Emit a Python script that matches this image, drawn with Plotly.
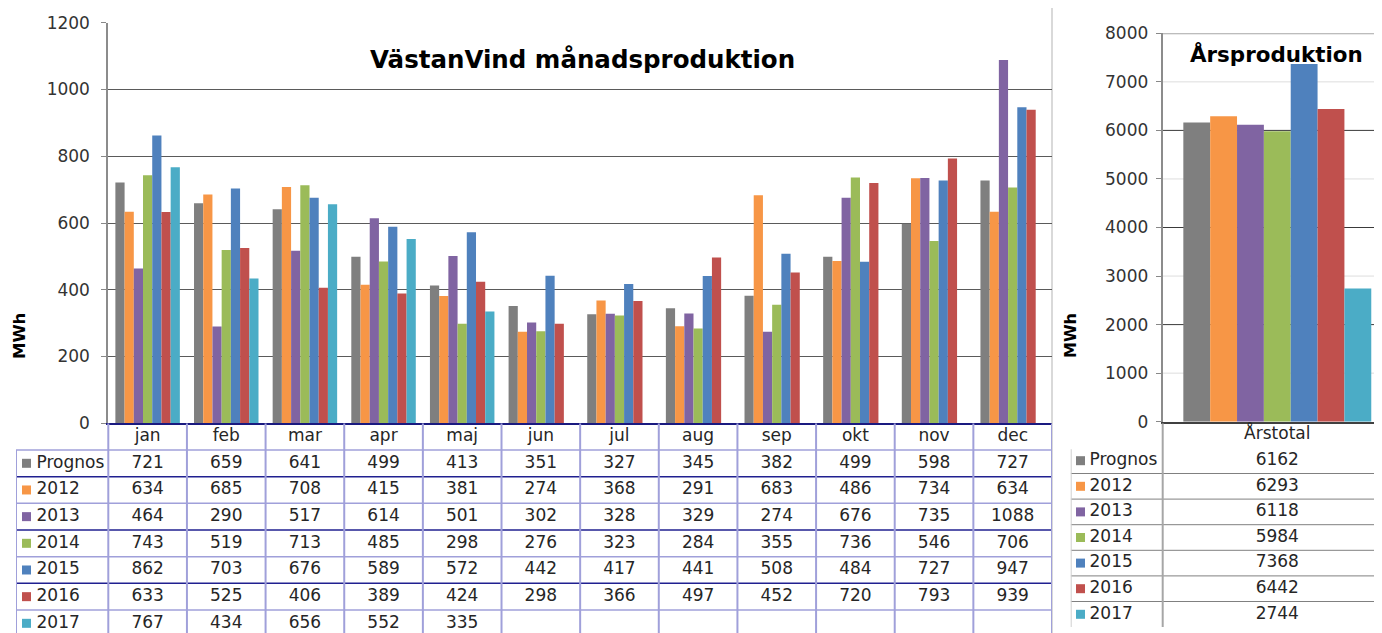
import plotly.graph_objects as go

# ---------------- data ----------------
months = ["jan", "feb", "mar", "apr", "maj", "jun", "jul", "aug", "sep", "okt", "nov", "dec"]
series_names = ["Prognos", "2012", "2013", "2014", "2015", "2016", "2017"]
prognos = [721, 659, 641, 499, 413, 351, 327, 345, 382, 499, 598, 727]
y2012 = [634, 685, 708, 415, 381, 274, 368, 291, 683, 486, 734, 634]
y2013 = [464, 290, 517, 614, 501, 302, 328, 329, 274, 676, 735, 1088]
y2014 = [743, 519, 713, 485, 298, 276, 323, 284, 355, 736, 546, 706]
y2015 = [862, 703, 676, 589, 572, 442, 417, 441, 508, 484, 727, 947]
y2016 = [633, 525, 406, 389, 424, 298, 366, 497, 452, 720, 793, 939]
y2017 = [767, 434, 656, 552, 335, None, None, None, None, None, None, None]
year_cat = ["Årstotal"]
year_totals = [6162, 6293, 6118, 5984, 7368, 6442, 2744]
colors = ["#7F7F7F", "#F79646", "#8064A2", "#9BBB59", "#4F81BD", "#C0504D", "#4BACC6"]
monthly = [prognos, y2012, y2013, y2014, y2015, y2016, y2017]

left_ticks = list(range(0, 1201, 200))
right_ticks = list(range(0, 8001, 1000))

# ---------------- layout geometry (page pixels) ----------------
W, H = 1382, 633
OFF = 8  # page body margin
FONT = "DejaVu Sans"
TXT = "#262626"

def px_x(p):
    return (p - OFF) / W

def px_y(p):
    return (H - (p - OFF)) / H

PAGE_R = W + OFF  # page x at paper x = 1

# left chart
L_x0, L_x1 = 108.3, 1052.0
L_top, L_bot = 22.7, 423.3
pitch = (L_x1 - L_x0) / 12
jan_c = L_x0 + pitch / 2
leg_left = 16.0
# left table rows
T_top = 423.3
row_h = 26.67
row0_c = T_top + row_h / 2
PAGE_B = H + OFF

# right chart
R_x0 = 1162.7
R_top, R_bot = 33.3, 421.7
R_center = 1277.3
r_unit = 229.2
R_leg_left = 1070.7
r_row_h = 25.6
r_row0_c = 435.1

fig = go.Figure()

# ---------------- bars ----------------
for name, vals, c in zip(series_names, monthly, colors):
    fig.add_trace(go.Bar(x=months, y=vals, name=name, marker=dict(color=c, line=dict(width=0)),
                         xaxis="x", yaxis="y", showlegend=False, hoverinfo="skip"))
for name, v, c in zip(series_names, year_totals, colors):
    fig.add_trace(go.Bar(x=year_cat, y=[v], name=name, marker=dict(color=c, line=dict(width=0)),
                         xaxis="x2", yaxis="y2", showlegend=False, hoverinfo="skip"))

# ---------------- left table text ----------------
tfont = dict(family=FONT, size=17, color=TXT)
fig.add_trace(go.Scatter(x=list(range(12)), y=[0] * 12, text=months, mode="text",
                         textfont=tfont, xaxis="x3", yaxis="y3", showlegend=False,
                         hoverinfo="skip", cliponaxis=False))
for r, vals in enumerate(monthly, start=1):
    xs = [i for i, v in enumerate(vals) if v is not None]
    ts = [str(v) for v in vals if v is not None]
    fig.add_trace(go.Scatter(x=xs, y=[r] * len(xs), text=ts, mode="text", textfont=tfont,
                             xaxis="x3", yaxis="y3", showlegend=False, hoverinfo="skip",
                             cliponaxis=False))
sq_x = (26.5 - jan_c) / pitch
lab_x = (36.5 - jan_c) / pitch
rows = list(range(1, len(series_names) + 1))
fig.add_trace(go.Scatter(x=[sq_x] * len(rows), y=rows, mode="markers",
                         marker=dict(symbol="square", size=9, color=colors),
                         xaxis="x3", yaxis="y3", showlegend=False, hoverinfo="skip", cliponaxis=False))
fig.add_trace(go.Scatter(x=[lab_x] * len(rows), y=rows, mode="text", text=series_names,
                         textposition="middle right", textfont=tfont,
                         xaxis="x3", yaxis="y3", showlegend=False, hoverinfo="skip", cliponaxis=False))

# ---------------- right table text ----------------
fig.add_trace(go.Scatter(x=[0], y=[0], text=year_cat, mode="text", textfont=tfont,
                         xaxis="x4", yaxis="y4", showlegend=False, hoverinfo="skip", cliponaxis=False))
fig.add_trace(go.Scatter(x=[0] * len(year_totals), y=rows, text=[str(v) for v in year_totals],
                         mode="text", textfont=tfont, xaxis="x4", yaxis="y4", showlegend=False,
                         hoverinfo="skip", cliponaxis=False))
rsq_x = (1080.5 - R_center) / r_unit
rlab_x = (1089.5 - R_center) / r_unit
fig.add_trace(go.Scatter(x=[rsq_x] * len(rows), y=rows, mode="markers",
                         marker=dict(symbol="square", size=9, color=colors),
                         xaxis="x4", yaxis="y4", showlegend=False, hoverinfo="skip", cliponaxis=False))
fig.add_trace(go.Scatter(x=[rlab_x] * len(rows), y=rows, mode="text", text=series_names,
                         textposition="middle right", textfont=tfont,
                         xaxis="x4", yaxis="y4", showlegend=False, hoverinfo="skip", cliponaxis=False))

# ---------------- shapes (table grid lines) ----------------
shapes = []
x3_lo = (leg_left - jan_c) / pitch
x3_hi = (L_x1 - jan_c) / pitch
y3_bot = (PAGE_B - row0_c) / row_h
y3_top = (T_top - row0_c) / row_h
# horizontal lines
for k in range(len(series_names)):
    yv = k + 0.5
    col = "#A0A0DA" if k % 2 == 0 else "#202090"
    shapes.append(dict(type="line", xref="x3", yref="y3", x0=x3_lo, x1=x3_hi, y0=yv, y1=yv,
                       line=dict(color=col, width=1.5)))
# vertical lines
for k in range(13):
    xv = k - 0.5
    shapes.append(dict(type="line", xref="x3", yref="y3", x0=xv, x1=xv, y0=y3_top, y1=y3_bot,
                       line=dict(color="#A0A0DA", width=2)))
shapes.append(dict(type="line", xref="x3", yref="y3", x0=x3_lo, x1=x3_lo, y0=0.5, y1=y3_bot,
                   line=dict(color="#A0A0DA", width=2)))

# right table lines
x4_lo = (R_leg_left - R_center) / r_unit
x4_hi = (PAGE_R - R_center) / r_unit
x4_axis = (R_x0 - R_center) / r_unit
y4_bot = (PAGE_B - r_row0_c) / r_row_h
y4_top = (T_top - r_row0_c) / r_row_h
for k in range(1, len(series_names)):
    yv = k + 0.5
    shapes.append(dict(type="line", xref="x4", yref="y4", x0=x4_lo, x1=x4_hi, y0=yv, y1=yv,
                       line=dict(color="#808080", width=1)))
shapes.append(dict(type="line", xref="x4", yref="y4", x0=x4_lo, x1=x4_lo, y0=0.55,
                   y1=len(series_names) + 0.5, line=dict(color="#D0D0D0", width=2)))
shapes.append(dict(type="line", xref="x4", yref="y4", x0=x4_axis, x1=x4_axis, y0=y4_top,
                   y1=len(series_names) + 0.5, line=dict(color="#A6A6A6", width=2)))

# right chart gridlines (alternating dark / light)
for v in right_ticks[1:-1]:
    col = "#3A3A3A" if (v // 1000) % 2 == 0 else "#DDDDDD"
    shapes.append(dict(type="line", xref="x2", yref="y2", x0=-0.5, x1=x4_hi, y0=v, y1=v,
                       line=dict(color=col, width=1), layer="below"))
shapes.append(dict(type="line", xref="x2", yref="y2", x0=-0.5, x1=x4_hi, y0=right_ticks[-1],
                   y1=right_ticks[-1], line=dict(color="#A6A6A6", width=2)))

# chart-area separator
shapes.append(dict(type="line", xref="paper", yref="paper", x0=px_x(L_x1), x1=px_x(L_x1),
                   y0=0, y1=1, line=dict(color="#D9D9D9", width=2), layer="below"))

# ---------------- annotations ----------------
annotations = [
    dict(text="<b>VästanVind månadsproduktion</b>", x=px_x(582.5), y=px_y(59), xref="paper",
         yref="paper", showarrow=False, font=dict(family=FONT, size=24.5, color="#000000"),
         xanchor="center", yanchor="middle"),
    dict(text="<b>Årsproduktion</b>", x=px_x(1276), y=px_y(54), xref="paper", yref="paper",
         showarrow=False, font=dict(family=FONT, size=21.4, color="#000000"),
         xanchor="center", yanchor="middle"),
    dict(text="<b>MWh</b>", x=px_x(20), y=px_y(336), xref="paper", yref="paper", showarrow=False,
         textangle=-90, font=dict(family=FONT, size=16.5, color="#000000"),
         xanchor="center", yanchor="middle"),
    dict(text="<b>MWh</b>", x=px_x(1071), y=px_y(336), xref="paper", yref="paper", showarrow=False,
         textangle=-90, font=dict(family=FONT, size=16, color="#000000"),
         xanchor="center", yanchor="middle"),
]

tickfont = dict(family=FONT, size=17, color="#333333")

fig.update_layout(
    width=W, height=H,
    margin=dict(l=0, r=0, t=0, b=0, autoexpand=False),
    paper_bgcolor="white", plot_bgcolor="white",
    barmode="group", bargap=0.18, bargroupgap=0,
    showlegend=False,
    hovermode=False,
    xaxis=dict(domain=[px_x(L_x0), px_x(L_x1)], anchor="y", type="category",
               categoryorder="array", categoryarray=months, range=[-0.5, 11.5],
               showticklabels=False, ticks="", showline=True, linecolor="#1A1A80",
               linewidth=2, showgrid=False, zeroline=False, fixedrange=True, automargin=False),
    yaxis=dict(domain=[px_y(L_bot), px_y(L_top)], anchor="x", range=[0, 1200],
               tickvals=left_ticks, ticks="outside", ticklen=5, tickcolor="#888888",
               tickfont=tickfont, showline=True, linecolor="#8C8C8C", linewidth=2,
               gridcolor="#5A5A5A", gridwidth=1, zeroline=False, ticklabelstandoff=8,
               fixedrange=True, automargin=False),
    xaxis2=dict(domain=[px_x(R_x0), 1], anchor="y2", type="category",
                range=[-0.5, x4_hi], showticklabels=False, ticks="", showline=True,
                linecolor="#404040", linewidth=1.5, showgrid=False, zeroline=False,
                fixedrange=True, automargin=False),
    yaxis2=dict(domain=[px_y(R_bot), px_y(R_top)], anchor="x2", range=[0, 8000],
                tickvals=right_ticks, ticks="outside", ticklen=5, tickcolor="#888888",
                tickfont=tickfont, showline=True, linecolor="#8C8C8C", linewidth=2,
                showgrid=False, zeroline=False, ticklabelstandoff=4, fixedrange=True,
                automargin=False),
    xaxis3=dict(domain=[px_x(leg_left), px_x(L_x1)], anchor="y3", range=[x3_lo, x3_hi],
                visible=False, fixedrange=True, automargin=False),
    yaxis3=dict(domain=[0, px_y(T_top)], anchor="x3", range=[y3_bot, y3_top],
                visible=False, fixedrange=True, automargin=False),
    xaxis4=dict(domain=[px_x(R_leg_left), 1], anchor="y4", range=[x4_lo, x4_hi],
                visible=False, fixedrange=True, automargin=False),
    yaxis4=dict(domain=[0, px_y(T_top)], anchor="x4", range=[y4_bot, y4_top],
                visible=False, fixedrange=True, automargin=False),
    shapes=shapes,
    annotations=annotations,
)

fig.write_html("out.html")
